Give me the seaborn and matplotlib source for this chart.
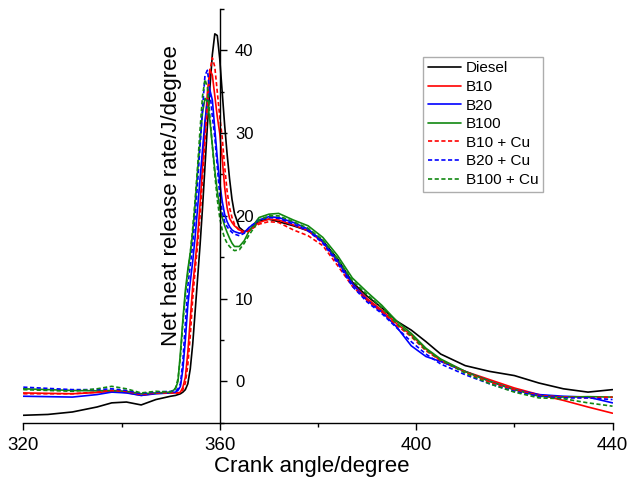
import numpy as np
import pandas as pd
import matplotlib
matplotlib.use("Agg")
import matplotlib.pyplot as plt
import seaborn as sns
from matplotlib.ticker import MultipleLocator

# ---------------- data ----------------
crank_angle = [320, 325, 330, 335, 338, 341, 344, 347, 350,
               351, 351.5, 352, 352.5, 353, 353.5, 354, 354.5, 355, 355.5,
               356, 356.5, 357, 357.5, 358, 358.5, 359, 359.5, 360, 360.5,
               361, 361.5, 362, 362.5, 363,
               364, 365, 366, 368, 370, 372, 375, 378, 381, 384, 387, 390,
               393, 396, 399, 402, 405, 410, 415, 420, 425, 430, 435, 440]

diesel = [-4.1, -4.0, -3.7, -3.1, -2.6, -2.5, -2.85, -2.2, -1.8,
          -1.7, -1.6, -1.5, -1.3, -1.0, -0.3, 1.5, 4.5, 8.5, 12.5,
          16.5, 21, 26, 31, 35.5, 39.5, 42, 41.8, 39, 35,
          31, 27.5, 24.5, 22, 20.3,
          18.6, 18.1, 18.2, 19.4, 19.6, 19.3, 18.8, 18.2, 17.0, 14.8, 12.0, 10.3,
          8.9, 7.3, 6.2, 4.8, 3.3, 1.9, 1.2, 0.7, -0.2, -0.9, -1.3, -1.0]

b10 = [-1.4, -1.45, -1.5, -1.35, -1.2, -1.35, -1.7, -1.45, -1.4,
       -1.4, -1.4, -1.3, -0.7, 0.5, 3.5, 7.5, 11.5, 14.5, 17.5,
       21.5, 26, 30.5, 35, 37.7, 37, 34.5, 32, 30, 27,
       23.5, 21, 19.7, 19.2, 18.8,
       18.3, 18.1, 18.3, 19.2, 19.6, 19.5, 18.9, 18.2, 16.8, 14.5, 11.8, 10.0,
       8.6, 7.0, 5.6, 3.9, 2.5, 1.2, 0.2, -0.8, -1.6, -2.3, -3.1, -3.85]

b20 = [-1.8, -1.85, -1.9, -1.6, -1.3, -1.4, -1.7, -1.5, -1.4,
       -1.3, -1.1, -0.6, 1.5, 5, 9.2, 12, 14.5, 17.5, 21,
       24.5, 28, 31.5, 34, 35.2, 34, 30.5, 27, 24, 21.8,
       20.2, 19.3, 18.7, 18.3, 18.1,
       17.9, 18.0, 18.6, 19.5, 19.9, 19.8, 19.2, 18.4, 16.9, 14.6, 11.8, 9.8,
       8.4, 6.6, 4.3, 3.0, 2.4, 1.2, 0.0, -1.0, -1.6, -1.8, -1.9, -2.6]

b100 = [-0.9, -1.0, -1.1, -1.15, -1.1, -1.2, -1.5, -1.4, -1.3,
        -0.9, 0.0, 3.5, 7.5, 11, 13.5, 15.5, 18, 21.5, 25.5,
        29, 32.5, 34.2, 33.8, 31.5, 28.5, 25.5, 23, 21, 19.8,
        18.8, 18.0, 17.3, 16.7, 16.3,
        16.3, 17.0, 18.2, 19.8, 20.2, 20.3, 19.5, 18.8, 17.4, 15.2, 12.5, 10.8,
        9.2, 7.3, 5.8, 4.0, 2.7, 1.2, 0.0, -1.0, -1.8, -1.9, -1.85, -1.9]

b10_cu = [-1.5, -1.5, -1.5, -1.3, -1.1, -1.2, -1.6, -1.4, -1.4,
          -1.4, -1.4, -1.4, -1.0, -0.2, 2, 5.5, 10, 13.5, 16.5,
          20, 24.5, 29, 33.5, 37.5, 39.1, 38, 35, 32, 29.5,
          26, 23, 21, 19.8, 19,
          18.2, 17.9, 18.2, 19.0, 19.3, 19.2, 18.3, 17.6, 16.4, 14.0, 11.5, 9.8,
          8.4, 6.8, 5.4, 3.7, 2.5, 1.1, -0.1, -1.0, -1.7, -1.9, -2.0, -1.9]

b20_cu = [-0.7, -0.85, -1.0, -1.0, -0.9, -1.1, -1.5, -1.3, -1.2,
          -1.2, -0.9, -0.3, 2.5, 7, 11.5, 14, 16.5, 20, 24,
          28.5, 33, 37, 37.6, 35, 32, 29.5, 26, 22.5, 20.5,
          19.3, 18.7, 18.3, 18.0, 17.8,
          17.6, 17.9, 18.6, 19.5, 19.8, 19.7, 19.0, 18.2, 16.7, 14.3, 11.5, 9.6,
          8.2, 6.5, 4.8, 3.3, 2.1, 0.8, -0.3, -1.2, -1.8, -2.0, -2.0, -2.2]

b100_cu = [-1.0, -1.1, -1.2, -0.9, -0.6, -0.9, -1.4, -1.2, -1.3,
           -0.8, 0.3, 3, 7, 10.5, 13, 15.5, 18.5, 22, 26,
           30.5, 34.5, 36.5, 35.5, 32, 28.5, 25, 22, 19.8, 18.3,
           17.3, 16.7, 16.3, 16.0, 15.8,
           15.9, 16.7, 17.7, 19.5, 20.0, 20.0, 19.3, 18.5, 17.1, 14.8, 12.2, 10.5,
           8.9, 7.0, 5.5, 3.8, 2.6, 1.0, -0.3, -1.3, -2.0, -2.1, -2.6, -3.0]

series_names = ["Diesel", "B10", "B20", "B100", "B10 + Cu", "B20 + Cu", "B100 + Cu"]
series_values = [diesel, b10, b20, b100, b10_cu, b20_cu, b100_cu]

x_ticks = [320, 360, 400, 440]
y_ticks = [0, 10, 20, 30, 40]

# ---------------- style ----------------
sns.set_theme(style="white")
plt.rcParams["font.family"] = ["Liberation Sans", "DejaVu Sans"]
plt.rcParams["text.color"] = "black"
plt.rcParams["axes.labelcolor"] = "black"
plt.rcParams["xtick.color"] = "black"
plt.rcParams["ytick.color"] = "black"

colors = ["#000000", "#ff0000", "#0000ff", "#118811",
          "#ff0000", "#0000ff", "#118811"]
dotted = (0, (2.5, 1.5))
styles = ["-", "-", "-", "-", dotted, dotted, dotted]

fig = plt.figure(figsize=(6.27, 4.9), dpi=100)
ax = fig.add_axes([0.0372, 0.1373, 0.9397, 0.8443])

for name, vals, c, ls in zip(series_names, series_values, colors, styles):
    sns.lineplot(x=crank_angle, y=vals, ax=ax, color=c, linestyle=ls,
                 linewidth=1.2, label=name, estimator=None, sort=False)

ax.set_xlim(320, 440)
ax.set_ylim(-5, 45)

# spines
ax.spines["top"].set_visible(False)
ax.spines["left"].set_visible(False)
ax.spines["right"].set_position(("data", 360))
for s in ["right", "bottom"]:
    ax.spines[s].set_color("black")
    ax.spines[s].set_linewidth(1.0)

ax.yaxis.tick_right()
ax.set_xticks(x_ticks)
ax.set_yticks(y_ticks)
ax.xaxis.set_minor_locator(MultipleLocator(20))
ax.yaxis.set_minor_locator(MultipleLocator(5))
ax.tick_params(axis="x", which="major", direction="out", length=5, width=1,
               labelsize=13.5, pad=5, color="black", labelcolor="black", bottom=True)
ax.tick_params(axis="x", which="minor", direction="out", length=3, width=1,
               color="black", bottom=True)
ax.tick_params(axis="y", which="major", direction="out", length=5, width=1,
               labelsize=12, pad=6, color="black", labelcolor="black",
               right=True, left=False)
ax.tick_params(axis="y", which="minor", direction="out", length=3, width=1,
               color="black", right=True, left=False)
ax.set_xlabel("")
ax.set_ylabel("")

fig.text(0.498, 0.047, "Crank angle/degree", fontsize=16, ha="center",
         va="center", color="black")
fig.text(0.274, 0.60, "Net heat release rate/J/degree", fontsize=16,
         rotation=90, ha="center", va="center", color="black")

leg = ax.legend(loc="upper left", bbox_to_anchor=(0.675, 0.884),
                bbox_transform=fig.transFigure, frameon=True, fancybox=False,
                fontsize=11, handlelength=2.2, handletextpad=0.3,
                borderpad=0.3, labelspacing=0.3, borderaxespad=0)
leg.get_frame().set_edgecolor("#999999")
leg.get_frame().set_linewidth(1.0)
for t in leg.get_texts():
    t.set_color("black")

fig.savefig("out.png", dpi=100)
